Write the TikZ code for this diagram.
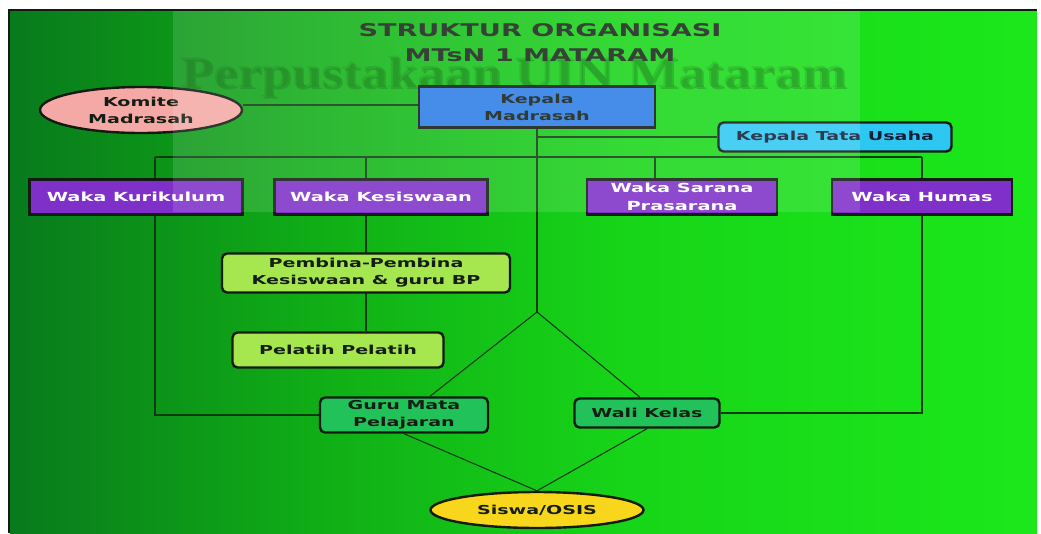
\documentclass[tikz,border=0pt]{standalone}
\usepackage{fontspec}
\setmainfont{DejaVu Sans}[FakeStretch=1.55]
\newfontfamily\markfont{Liberation Serif}[FakeStretch=1.2]
\usetikzlibrary{shapes.geometric,positioning}

\definecolor{fieldA}{HTML}{087A1C}
\definecolor{fieldB}{HTML}{10AE16}
\definecolor{fieldC}{HTML}{17D518}
\definecolor{fieldD}{HTML}{1BE81B}
\definecolor{ink}{HTML}{141E14}
\definecolor{navyink}{HTML}{10203A}
\definecolor{titleink}{HTML}{1A261A}
\definecolor{boxline}{HTML}{121A12}
\definecolor{wireline}{HTML}{0E3A12}
\definecolor{wakapurple}{HTML}{7E30C9}
\definecolor{kepalablue}{HTML}{2A7DE6}
\definecolor{komitepink}{HTML}{F5A9A6}
\definecolor{tatacyan}{HTML}{2DC8F2}
\definecolor{pembinalime}{HTML}{A6E64E}
\definecolor{guruteal}{HTML}{22C25A}
\definecolor{siswagold}{HTML}{F7D61C}

\pgfdeclarehorizontalshading{greenfield}{100bp}{color(0bp)=(fieldA); color(25bp)=(fieldA); color(40bp)=(fieldB); color(55bp)=(fieldC); color(75bp)=(fieldD); color(100bp)=(fieldD)}

\pgfdeclarelayer{back}
\pgfdeclarelayer{wires}
\pgfdeclarelayer{front}
\pgfsetlayers{back,wires,main,front}

\begin{document}
\begin{tikzpicture}[x=1pt, y=-1pt,
    box/.style={draw=boxline, line width=2.4pt, text=ink, align=center, inner sep=0pt,
      font=\bfseries\fontsize{12.3}{17}\selectfont},
    waka node/.style={box, fill=wakapurple, text=white, minimum width=#1, minimum height=35pt,
      font=\bfseries\fontsize{12.5}{18}\selectfont},
    soft node/.style={box, rounded corners=5pt, fill=#1},
    oval node/.style={box, ellipse, fill=#1},
    wire/.style={draw=wireline, line width=1.1pt},
    mark node/.style={anchor=base west, inner sep=0pt, font=\markfont\bfseries\fontsize{45}{45}\selectfont}]
  \useasboundingbox (0,0) rectangle (1041,533);

  \begin{pgfonlayer}{back}
    \fill[white] (0,0) rectangle (1041,533);
    \shade[shading=greenfield] (10,10) rectangle (1037,533);
    \draw[boxline, line width=2pt] (9,533) -- (9,10) -- (1037,10);
    \node[mark node, text=green!35!black, opacity=0.32] (markshade) at (182,89) {Perpustakaan UIN Mataram};
    \node[mark node, text=green!40!black, opacity=0.22] (mark) at (180,87) {Perpustakaan UIN Mataram};
  \end{pgfonlayer}

  \node[font=\bfseries\fontsize{17.5}{25}\selectfont, text=titleink, align=center, inner sep=0pt] (title) at (540,43) {STRUKTUR ORGANISASI\\MTsN 1 MATARAM};

  \node[oval node=komitepink, minimum width=202pt, minimum height=46pt] (komite) at (141,110) {Komite\\Madrasah};
  \node[box, fill=kepalablue, minimum width=236pt, minimum height=41pt] (kepala) at (537,107) {Kepala\\Madrasah};
  \node[soft node=tatacyan, text=navyink, minimum width=233pt, minimum height=29pt] (tatausaha) at (835,137) {Kepala Tata Usaha};

  \node[waka node=213pt] (kurikulum) at (136,197) {Waka Kurikulum};
  \node[waka node=213pt] (kesiswaan) at (381,197) {Waka Kesiswaan};
  \node[waka node=190pt] (sarana) at (682,197) {Waka Sarana\\Prasarana};
  \node[waka node=180pt] (humas) at (922,197) {Waka Humas};

  \node[soft node=pembinalime, minimum width=288pt, minimum height=39pt] (pembina) at (366,273) {Pembina-Pembina\\Kesiswaan \& guru BP};
  \node[soft node=pembinalime, minimum width=211pt, minimum height=35pt] (pelatih) at (338,350) {Pelatih Pelatih};
  \node[soft node=guruteal, minimum width=168pt, minimum height=35pt] (guru) at (404,415) {Guru Mata\\Pelajaran};
  \node[soft node=guruteal, minimum width=145pt, minimum height=29pt] (walikelas) at (647,413) {Wali Kelas};
  \node[oval node=siswagold, minimum width=213pt, minimum height=36pt] (siswa) at (537,510) {Siswa/OSIS};

  \coordinate (busleft) at (155,157);
  \coordinate (busright) at (busleft -| humas.north);
  \coordinate (saranatap) at (655,157);
  \coordinate (fork) at (537,312);

  \begin{pgfonlayer}{wires}
    \draw[wire] ([yshift=5pt]komite.east) -- ([yshift=5pt]komite.east -| kepala.west);
    \draw[wire] (kepala.south) -- (fork);
    \draw[wire] (kepala.south |- tatausaha.west) -- (tatausaha.west);
    \draw[wire] (busleft) -- (busright);
    \draw[wire] (busleft) -- (busleft |- guru.west) -- (guru.west);
    \draw[wire] (busright) -- (busright |- walikelas.east) -- (walikelas.east);
    \draw[wire] (busleft -| pembina.north) -- (pelatih.north -| pembina.north);
    \draw[wire] (saranatap) -- (saranatap |- sarana.north);
    \draw[wire] (fork) -- ([xshift=26pt]guru.north);
    \draw[wire] (fork) -- ([xshift=-7pt]walikelas.north);
    \draw[wire] (guru.south) -- (siswa.north);
    \draw[wire] (walikelas.south) -- (siswa.north);
  \end{pgfonlayer}

  \begin{pgfonlayer}{front}
    \fill[white, opacity=0.13] (173,11) rectangle (860,212);
  \end{pgfonlayer}
\end{tikzpicture}
\end{document}
